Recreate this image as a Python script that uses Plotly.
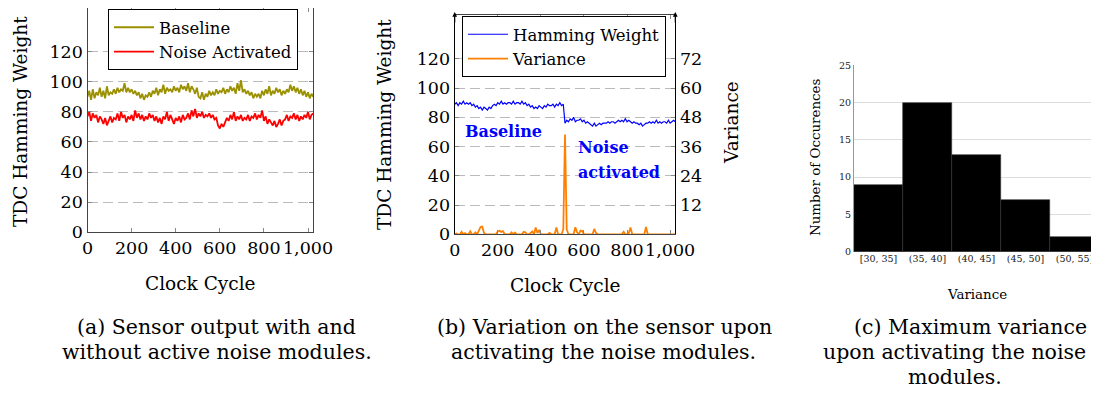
import plotly.graph_objects as go

# ---------------- data ----------------
cycles = list(range(0, 1025, 8))

baseline = [
    90, 94, 88, 95, 89, 93, 91, 96,
    90, 94, 89, 97, 91, 93, 92, 95,
    92, 96, 93, 95, 94, 99, 93, 96,
    93, 95, 92, 94, 91, 93, 89, 92,
    88, 91, 90, 93, 90, 94, 92, 96,
    91, 95, 93, 98, 92, 96, 94, 95,
    93, 97, 94, 96, 93, 98, 95, 97,
    94, 99, 93, 97, 95, 92, 96, 90,
    89, 93, 88, 92, 90, 94, 91, 93,
    91, 95, 92, 94, 93, 96, 92, 95,
    93, 97, 94, 96, 92, 99, 94, 101,
    93, 95, 92, 94, 91, 93, 89, 92,
    90, 92, 89, 94, 91, 95, 92, 97,
    91, 94, 92, 96, 93, 95, 91, 94,
    92, 95, 93, 98, 94, 97, 93, 96,
    92, 95, 91, 94, 90, 93, 89, 92,
    90,
]

noise_activated = [
    77, 80, 74, 79, 76, 78, 73, 77,
    75, 72, 76, 71, 74, 77, 73, 76,
    75, 79, 74, 80, 76, 78, 73, 77,
    75, 78, 74, 81, 76, 79, 75, 78,
    74, 77, 75, 79, 76, 78, 74, 77,
    73, 76, 72, 77, 75, 80, 74, 78,
    75, 72, 76, 74, 77, 73, 78, 75,
    76, 79, 75, 81, 77, 82, 76, 79,
    77, 80, 76, 78, 77, 79, 76, 78,
    75, 76, 71, 69, 72, 70, 73, 76,
    74, 78, 75, 80, 74, 77, 75, 78,
    74, 76, 75, 78, 74, 77, 76, 79,
    75, 78, 76, 81, 74, 77, 72, 75,
    73, 71, 74, 70, 72, 75, 71, 74,
    75, 78, 74, 77, 76, 79, 75, 78,
    74, 77, 75, 78, 76, 80, 75, 78,
    79,
]

hamming_weight = [
    89, 90, 88, 90, 89, 91, 89, 90,
    89, 90, 88, 89, 87, 88, 86, 87,
    85, 87, 86, 85, 87, 86, 88, 89,
    88, 90, 89, 91, 89, 90, 89, 90,
    90, 89, 91, 89, 90, 90, 89, 91,
    89, 90, 88, 89, 87, 88, 86, 87,
    86, 88, 87, 86, 88, 87, 89, 88,
    88, 89, 87, 89, 88, 90, 88, 89,
    76, 78, 77, 79, 78, 80, 77, 78,
    78, 79, 77, 78, 76, 77, 76, 75,
    74, 76, 74, 75, 76, 75, 76, 76,
    76, 77, 76, 77, 77, 76, 77, 78,
    77, 78, 77, 79, 77, 78, 77, 76,
    77, 76, 76, 75, 76, 74, 75, 76,
    76, 77, 76, 77, 76, 78, 76, 77,
    76, 77, 77, 76, 78, 76, 77, 78,
    77,
]

variance = [
    0, 0.3, 0, 0, 1.0, 0, 0.5, 0,
    0, 1.2, 0, 0, 0.8, 0, 1.5, 3.0,
    3.2, 0.5, 0, 0, 0, 0, 0, 0,
    0, 1.2, 1.5, 1.0, 1.3, 0, 0, 0,
    0, 0.8, 0, 0.7, 0, 0, 0, 0,
    1.0, 0.8, 0, 0, 0.5, 1.2, 0, 2.8,
    0.5, 1.8, 0, 0, 0, 0, 0, 0.6,
    0, 0, 0, 2.8, 0, 0, 0, 2.0,
    41.0, 2.0, 0, 0, 0, 0, 2.9, 0.8,
    0, 1.5, 1.3, 0, 0, 0, 0, 0,
    0, 2.2, 0.5, 0, 0, 0, 0, 0,
    0, 0, 0, 0, 0, 0, 0, 0,
    0, 0, 1.0, 0, 0, 0.5, 2.8, 0,
    0, 0, 0, 0, 0, 0, 0, 3.0,
    0, 0, 0, 0, 0, 0, 0, 0,
    0, 0, 0, 0, 0, 0, 0, 0,
    0,
]

hist_bins = ["[30, 35]", "(35, 40]", "(40, 45]", "(45, 50]", "(50, 55]"]
hist_counts = [9, 20, 13, 7, 2]

x_tickvals = [0, 200, 400, 600, 800, 1000]
x_ticktext = ["0", "200", "400", "600", "800", "1,000"]
hw_tickvals = [0, 20, 40, 60, 80, 100, 120]
var_tickvals = [12, 24, 36, 48, 60, 72]
hist_tickvals = [0, 5, 10, 15, 20, 25]

# ---------------- style ----------------
SERIF = "DejaVu Serif, Liberation Serif, serif"
W, H = 1099, 403
OFF = 8  # page body margin of the browser


def px_x(p):
    return min(1.0, max(0.0, (p - OFF) / W))


def px_y(p):
    return min(1.0, max(0.0, 1 - (p - OFF) / H))


fig = go.Figure()

fig.add_trace(go.Scatter(x=cycles, y=baseline, mode="lines", name="Baseline",
                         line=dict(color="#9a9000", width=1.8),
                         xaxis="x", yaxis="y", legend="legend"))
fig.add_trace(go.Scatter(x=cycles, y=noise_activated, mode="lines", name="Noise Activated",
                         line=dict(color="#ff0000", width=1.8),
                         xaxis="x", yaxis="y", legend="legend"))
fig.add_trace(go.Scatter(x=cycles, y=hamming_weight, mode="lines", name="Hamming Weight",
                         line=dict(color="#0000ff", width=1.2),
                         xaxis="x2", yaxis="y2", legend="legend2"))
fig.add_trace(go.Scatter(x=cycles, y=variance, mode="lines", name="Variance",
                         line=dict(color="#ff8000", width=1.8),
                         xaxis="x2", yaxis="y3", legend="legend2"))
fig.add_trace(go.Bar(x=hist_bins, y=hist_counts, width=1.0,
                     marker=dict(color="black", line=dict(color="#333333", width=0.6)),
                     xaxis="x4", yaxis="y4", showlegend=False))

tickfont = dict(family=SERIF, size=17.5, color="black")

common_x = dict(range=[0, 1024], tickmode="array", tickvals=x_tickvals, ticktext=x_ticktext,
                ticks="inside", ticklen=4, tickcolor="#888888", showline=True,
                linecolor="#444444", linewidth=1.2, mirror="ticks", showgrid=False,
                zeroline=False, tickfont=tickfont, tickangle=0, automargin=False)
common_y = dict(tickmode="array", tickvals=hw_tickvals,
                ticks="inside", ticklen=4, tickcolor="#888888", showline=True,
                linewidth=1.2, showgrid=True, gridcolor="#bbbbbb", griddash="10px,5px",
                gridwidth=1, zeroline=False, tickfont=tickfont, automargin=False)

legend_common = dict(xanchor="left", yanchor="top", bordercolor="black", borderwidth=1,
                     bgcolor="white", font=dict(family=SERIF, size=16.5, color="black"),
                     tracegroupgap=0, itemwidth=40)

fig.update_layout(
    template="none",
    width=W, height=H,
    margin=dict(l=0, r=0, t=0, b=0, pad=0),
    paper_bgcolor="white", plot_bgcolor="white",
    xaxis=dict(domain=[px_x(87.5), px_x(313.3)], anchor="y", **common_x),
    yaxis=dict(domain=[px_y(232.3), 1.0], range=[0, 149], anchor="x", linecolor="#444444",
               mirror="ticks", **common_y),
    xaxis2=dict(domain=[px_x(454.7), px_x(675.3)], anchor="y2", **common_x),
    yaxis2=dict(domain=[px_y(234.3), px_y(15)], range=[0, 150], anchor="x2",
                linecolor="black", **common_y),
    yaxis3=dict(range=[0, 90], tickmode="array", tickvals=var_tickvals, overlaying="y2",
                side="right", anchor="x2", ticks="inside", ticklen=4, tickcolor="#888888",
                showline=True, linecolor="black", linewidth=1.2, showgrid=False,
                zeroline=False, tickfont=tickfont, automargin=False),
    xaxis4=dict(domain=[px_x(854), px_x(1099)], anchor="y4", range=[-0.5, 4.5],
                type="category", showline=False, showgrid=False, zeroline=False, ticks="",
                tickangle=0, automargin=False,
                tickfont=dict(family=SERIF, size=9.5, color="#222222")),
    yaxis4=dict(domain=[px_y(251.7), px_y(65)], anchor="x4", range=[0, 25.05],
                tickmode="array", tickvals=hist_tickvals, showline=True, linecolor="#999999",
                linewidth=1, showgrid=True, gridcolor="#dddddd", gridwidth=1,
                zeroline=True, zerolinecolor="#999999", ticks="", automargin=False,
                tickfont=dict(family=SERIF, size=9.5, color="#222222")),
    bargap=0,
    legend=dict(x=px_x(108), y=px_y(9), **legend_common),
    legend2=dict(x=px_x(462), y=px_y(16), **legend_common),
    showlegend=True,
)

ann = []


def add_text(text, x, y, size=18.5, angle=0, color="black", xanchor="center"):
    ann.append(dict(text=text, x=px_x(x), y=px_y(y), xref="paper", yref="paper",
                    showarrow=False, textangle=angle, xanchor=xanchor, yanchor="middle",
                    font=dict(family=SERIF, size=size, color=color)))


# axis titles
add_text("TDC Hamming Weight", 20, 122, angle=-90)
add_text("Clock Cycle", 200, 283)
add_text("TDC Hamming Weight", 385, 125, angle=-90)
add_text("Clock Cycle", 565, 285)
add_text("Variance", 732, 123, angle=-90)
add_text("Number of Occurences", 816, 158, size=13.4, angle=-90)
add_text("Variance", 977, 294, size=13.4)

# in-plot labels of panel (b)
for txt, xv, yv in (("<b>Baseline</b>", 40, 70.5), ("<b>Noise</b>", 565, 59.5),
                    ("<b>activated</b>", 565, 42.5)):
    ann.append(dict(text=txt, x=xv, y=yv, xref="x2", yref="y2", showarrow=False,
                    xanchor="left", yanchor="middle",
                    font=dict(family=SERIF, size=16, color="#0000ff")))

# axis arrows of panel (b)
for xp in (454.7, 675.3):
    ann.append(dict(x=px_x(xp), y=px_y(12), xref="paper", yref="paper", ax=0, ay=12,
                    axref="pixel", ayref="pixel", showarrow=True, arrowhead=2,
                    arrowsize=0.8, arrowwidth=1.2, arrowcolor="black", text=""))

# captions
CAP = 20.5
add_text("(a) Sensor output with and", 216, 327, size=CAP)
add_text("without active noise modules.", 217, 352, size=CAP)
add_text("(b) Variation on the sensor upon", 604, 327, size=CAP)
add_text("activating the noise modules.", 603, 352, size=CAP)
add_text("(c) Maximum variance", 970, 327, size=CAP)
add_text("upon activating the noise", 954, 352, size=CAP)
add_text("modules.", 955, 377, size=CAP)

fig.update_layout(annotations=ann)

fig.write_html("out.html")
